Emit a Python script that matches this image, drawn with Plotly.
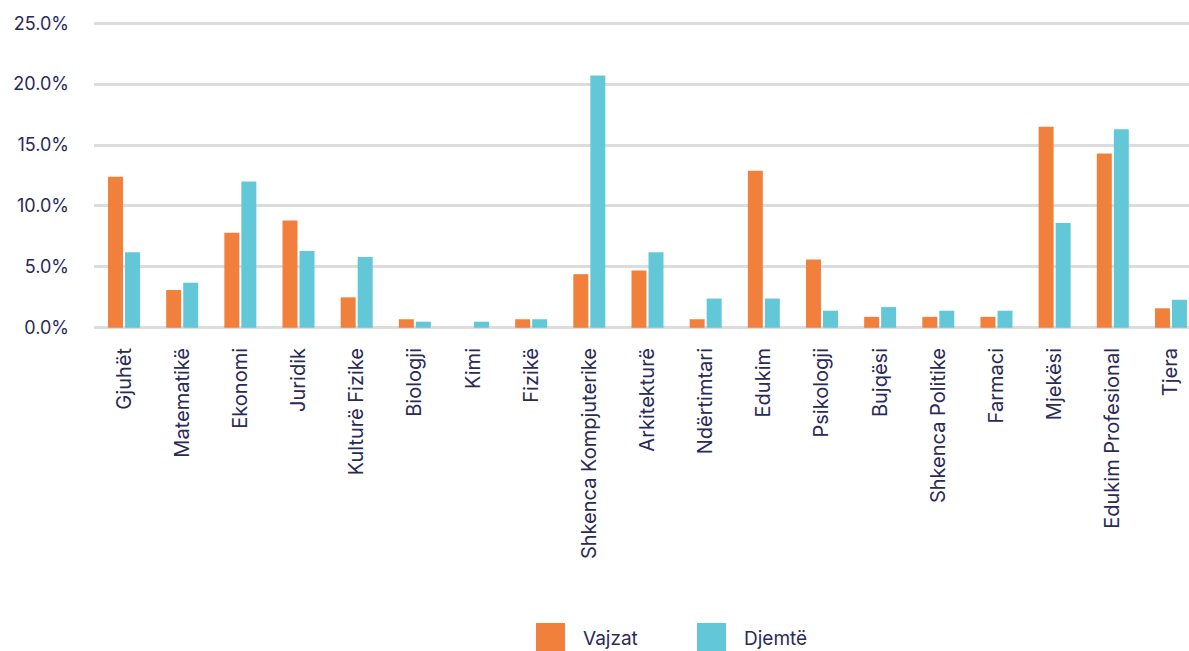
import plotly.graph_objects as go

categories = ["Gjuhët", "Matematikë", "Ekonomi", "Juridik", "Kulturë Fizike", "Biologji", "Kimi",
              "Fizikë", "Shkenca Kompjuterike", "Arkitekturë", "Ndërtimtari", "Edukim", "Psikologji",
              "Bujqësi", "Shkenca Politike", "Farmaci", "Mjekësi", "Edukim Profesional", "Tjera"]
vajzat = [12.4, 3.1, 7.8, 8.8, 2.5, 0.7, 0.0, 0.7, 4.4, 4.7, 0.7, 12.9, 5.6, 0.9, 0.9, 0.9, 16.5, 14.3, 1.6]
djemte = [6.2, 3.7, 12.0, 6.3, 5.8, 0.5, 0.5, 0.7, 20.7, 6.2, 2.4, 2.4, 1.4, 1.7, 1.4, 1.4, 8.6, 16.3, 2.3]
series_names = ["Vajzat", "Djemtë"]
series_colors = ["#F0803C", "#62C8D8"]
y_ticks = [0, 5, 10, 15, 20, 25]

FONT = "Inter"
TEXT = "#2a2a57"
W, H = 1189, 651
ML, MR, MT, MB = 94, 0, 22, 322

fig = go.Figure()
for name, vals, col in zip(series_names, [vajzat, djemte], series_colors):
    fig.add_trace(go.Bar(x=list(range(len(categories))), y=vals, name=name,
                         marker=dict(color=col, line=dict(width=0)), showlegend=False))

fig.update_layout(
    width=W, height=H,
    margin=dict(l=ML, r=MR, t=MT, b=MB, pad=0),
    paper_bgcolor="white", plot_bgcolor="white",
    barmode="group", bargap=0.415, bargroupgap=0.12,
    font=dict(family=FONT, size=18, color=TEXT),
    xaxis=dict(tickmode="array", tickvals=list(range(len(categories))), ticktext=categories,
               tickangle=-90, range=[-0.516, 18.31], showgrid=False, zeroline=False,
               showline=False, ticks="", ticklabelstandoff=14,
               tickfont=dict(family=FONT, size=20, color=TEXT)),
    yaxis=dict(range=[-0.1, 25.1], tickvals=y_ticks, ticktext=[f"{v:.1f}%" for v in y_ticks],
               showgrid=True, gridcolor="#dcdcdc", gridwidth=3, zeroline=False,
               showline=False, ticks="", ticklabelstandoff=24,
               tickfont=dict(family=FONT, size=18, color=TEXT)),
)

# Custom legend (large square swatches)
plot_h = H - MT - MB
plot_w = W - ML - MR
def px_x(p):
    return (p - ML) / plot_w
def px_y(p):
    return (H - MB - p) / plot_h

leg_x = [536, 697]
for name, col, x0 in zip(series_names, series_colors, leg_x):
    fig.add_shape(type="rect", xref="paper", yref="paper",
                  x0=px_x(x0), x1=px_x(x0 + 29), y0=px_y(652), y1=px_y(623),
                  fillcolor=col, line=dict(width=0))
    fig.add_annotation(xref="paper", yref="paper", x=px_x(x0 + 45), y=px_y(638),
                       text=name, showarrow=False, xanchor="left", yanchor="middle",
                       font=dict(family=FONT, size=19, color=TEXT))

fig.write_html("out.html", config={"displayModeBar": False},
               post_script="document.body.style.margin='0';document.body.style.overflow='hidden';")
